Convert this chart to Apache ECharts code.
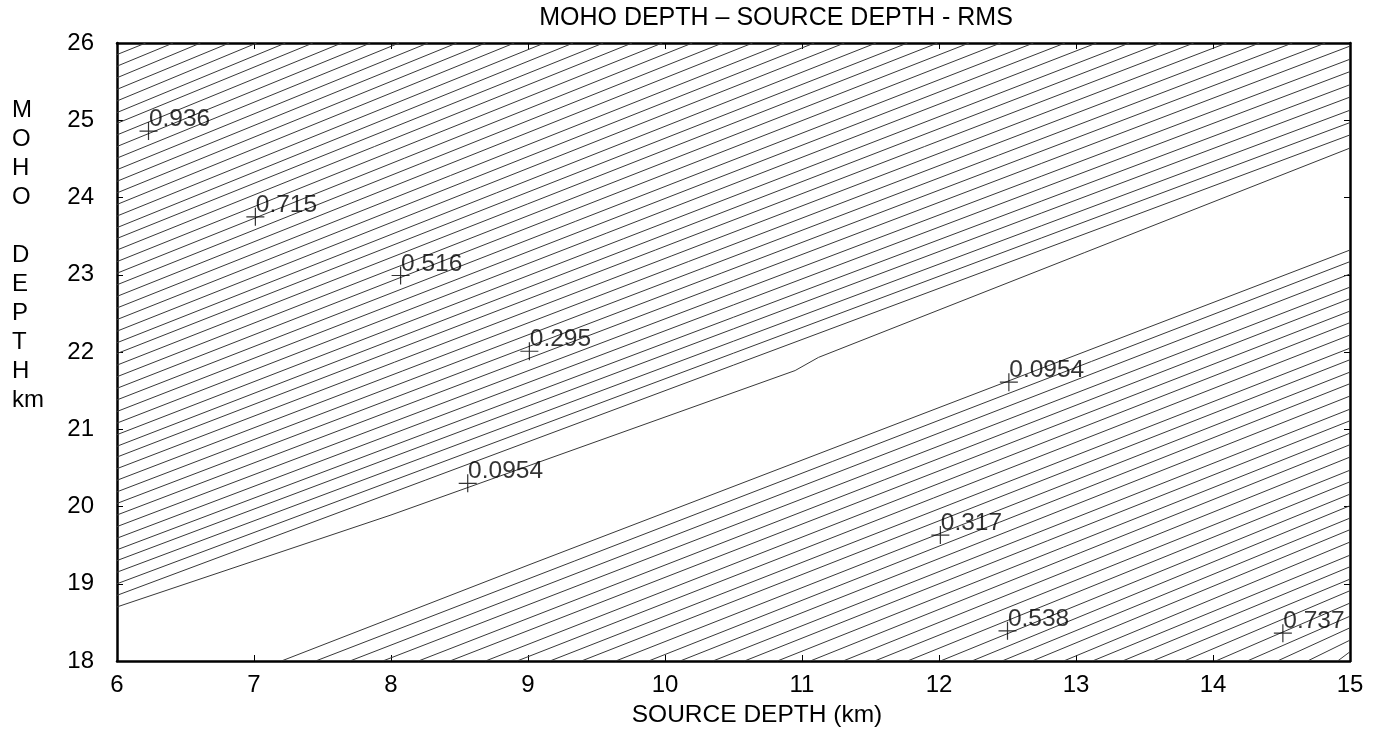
<!DOCTYPE html>
<html>
<head>
<meta charset="utf-8">
<title>MOHO DEPTH – SOURCE DEPTH - RMS</title>
<script src="https://cdn.jsdelivr.net/npm/echarts@6/dist/echarts.min.js"></script>
<style>
  html, body { margin: 0; padding: 0; background: #ffffff; }
  #chart { width: 1373px; height: 734px; }
</style>
</head>
<body>
<div id="chart"></div>
<script>
// Axis ranges and tick labels (source depth on x, Moho depth on y, both km)
const xTickValues = [6, 7, 8, 9, 10, 11, 12, 13, 14, 15];
const yTickValues = [18, 19, 20, 21, 22, 23, 24, 25, 26];

// Upper hatched band: RMS contours entering on the left edge (y at x = 6)
const upperStartY = [
  18.70, 18.85, 19.00, 19.15, 19.30, 19.44, 19.59, 19.74, 19.89, 20.04,
  20.19, 20.34, 20.49, 20.64, 20.78, 20.93, 21.08, 21.23, 21.38, 21.53,
  21.68, 21.83, 21.98, 22.12, 22.27, 22.42, 22.57, 22.72, 22.87, 23.02,
  23.17, 23.32, 23.47, 23.61, 23.76, 23.91, 24.06, 24.21, 24.36, 24.51,
  24.66, 24.81, 24.96, 25.10, 25.25, 25.40, 25.55, 25.70, 25.85
];
// ...and where each of them leaves the frame (right edge, then top edge)
const upperEnd = [
  [15, 24.64], [15, 24.81], [15, 24.97], [15, 25.13], [15, 25.30],
  [15, 25.46], [15, 25.63], [15, 25.79], [15, 25.96],
  [14.82, 26], [14.58, 26], [14.34, 26], [14.10, 26], [13.86, 26],
  [13.62, 26], [13.39, 26], [13.15, 26], [12.92, 26], [12.69, 26],
  [12.45, 26], [12.22, 26], [11.99, 26], [11.77, 26], [11.54, 26],
  [11.31, 26], [11.09, 26], [10.87, 26], [10.64, 26], [10.42, 26],
  [10.20, 26], [9.98, 26], [9.76, 26], [9.55, 26], [9.33, 26],
  [9.12, 26], [8.90, 26], [8.69, 26], [8.48, 26], [8.27, 26],
  [8.06, 26], [7.85, 26], [7.64, 26], [7.43, 26], [7.23, 26],
  [7.02, 26], [6.82, 26], [6.61, 26], [6.41, 26], [6.21, 26]
];
// Bends along the lowest contour of the upper band
const upperEdgeBends = [[8.0, 19.89], [10.95, 21.76], [11.12, 21.93]];

// Lower hatched band: contours entering on the bottom edge (x at y = 18)
const lowerStartX = [
  7.20, 7.45, 7.70, 7.94, 8.20, 8.43, 8.69, 8.92, 9.16, 9.39,
  9.64, 9.88, 10.11, 10.35, 10.58, 10.82, 11.06, 11.30, 11.53, 11.77,
  12.01, 12.24, 12.46, 12.68, 12.91, 13.12, 13.34, 13.56, 13.79, 14.02,
  14.25, 14.47, 14.69, 14.91
];
// ...and leaving on the right edge (y at x = 15)
const lowerEndY = [
  23.32, 23.17, 23.01, 22.84, 22.69, 22.53, 22.38, 22.22, 22.05, 21.90,
  21.74, 21.59, 21.43, 21.26, 21.11, 20.95, 20.80, 20.64, 20.47, 20.32,
  20.16, 20.01, 19.85, 19.70, 19.54, 19.37, 19.22, 19.06, 18.91, 18.75,
  18.58, 18.43, 18.27, 18.12
];
const lowerEdgeBends = [[9.0, 19.24]];

// Sampled RMS values marked with a cross
const markX = [6.23, 7.01, 8.07, 9.01, 8.56, 12.51, 12.01, 12.50, 14.51];
const markY = [24.86, 23.75, 22.99, 22.01, 20.30, 21.61, 19.63, 18.39, 18.36];
const markText = ['0.936', '0.715', '0.516', '0.295', '0.0954', '0.0954', '0.317', '0.538', '0.737'];

const FONT = '"Liberation Sans", Arial, Helvetica, sans-serif';
const LINE = '#383838';

// Assemble contour polylines
const contourData = [];
upperStartY.forEach((y0, i) => {
  const coords = [[6, y0]];
  if (i === 0) upperEdgeBends.forEach(p => coords.push(p));
  coords.push(upperEnd[i]);
  contourData.push({ coords });
});
lowerStartX.forEach((x0, j) => {
  const coords = [[x0, 18]];
  if (j === 0) lowerEdgeBends.forEach(p => coords.push(p));
  coords.push([15, lowerEndY[j]]);
  contourData.push({ coords });
});

const marks = markX.map((x, k) => ({ value: [x, markY[k]], name: markText[k] }));

const frameLine = { show: true, onZero: false, lineStyle: { color: '#000', width: 2.5 } };
const innerTick = { show: true, inside: true, length: 6, lineStyle: { color: '#000', width: 1 } };

const chart = echarts.init(document.getElementById('chart'), null, { renderer: 'canvas' });
chart.setOption({
  animation: false,
  backgroundColor: '#ffffff',
  grid: { left: 117, right: 23, top: 43, bottom: 73, containLabel: false },
  xAxis: [
    {
      type: 'value', min: xTickValues[0], max: xTickValues[xTickValues.length - 1], interval: 1,
      position: 'bottom',
      axisLine: frameLine, axisTick: innerTick, splitLine: { show: false },
      axisLabel: { color: '#000', fontFamily: FONT, fontSize: 24, margin: 12 }
    },
    {
      type: 'value', min: xTickValues[0], max: xTickValues[xTickValues.length - 1], interval: 1,
      position: 'top',
      axisLine: frameLine, axisTick: innerTick, splitLine: { show: false },
      axisLabel: { show: false }
    }
  ],
  yAxis: [
    {
      type: 'value', min: yTickValues[0], max: yTickValues[yTickValues.length - 1], interval: 1,
      position: 'left',
      axisLine: frameLine, axisTick: innerTick, splitLine: { show: false },
      axisLabel: { color: '#000', fontFamily: FONT, fontSize: 24, margin: 23 }
    },
    {
      type: 'value', min: yTickValues[0], max: yTickValues[yTickValues.length - 1], interval: 1,
      position: 'right',
      axisLine: frameLine, axisTick: innerTick, splitLine: { show: false },
      axisLabel: { show: false }
    }
  ],
  series: [
    {
      type: 'lines',
      coordinateSystem: 'cartesian2d',
      xAxisIndex: 0, yAxisIndex: 0,
      polyline: true,
      silent: true,
      lineStyle: { color: LINE, width: 1, opacity: 1 },
      data: contourData,
      z: 2
    },
    {
      type: 'scatter',
      xAxisIndex: 0, yAxisIndex: 0,
      symbol: 'path://M0,9 L18,9 M9,0 L9,18',
      symbolSize: 18,
      itemStyle: { color: 'rgba(0,0,0,0)', borderColor: '#000', borderWidth: 1.2 },
      label: {
        show: true,
        formatter: p => p.name,
        position: [10, -2],
        align: 'left',
        verticalAlign: 'middle',
        color: '#000',
        fontFamily: FONT,
        fontSize: 24.5
      },
      data: marks,
      z: 3
    }
  ],
  graphic: [
    {
      type: 'text', x: 776, y: 18,
      style: { text: 'MOHO DEPTH – SOURCE DEPTH - RMS', font: '25px ' + FONT, fill: '#000',
               textAlign: 'center', textVerticalAlign: 'middle' }
    },
    {
      type: 'text', x: 757, y: 715,
      style: { text: 'SOURCE DEPTH (km)', font: '24.5px ' + FONT, fill: '#000',
               textAlign: 'center', textVerticalAlign: 'middle' }
    },
    {
      type: 'text', x: 12, y: 95.5,
      style: { text: 'M\nO\nH\nO\n\nD\nE\nP\nT\nH\nkm', font: '24px ' + FONT, fill: '#000',
               lineHeight: 29, textAlign: 'left', textVerticalAlign: 'top' }
    }
  ]
});
</script>
</body>
</html>
